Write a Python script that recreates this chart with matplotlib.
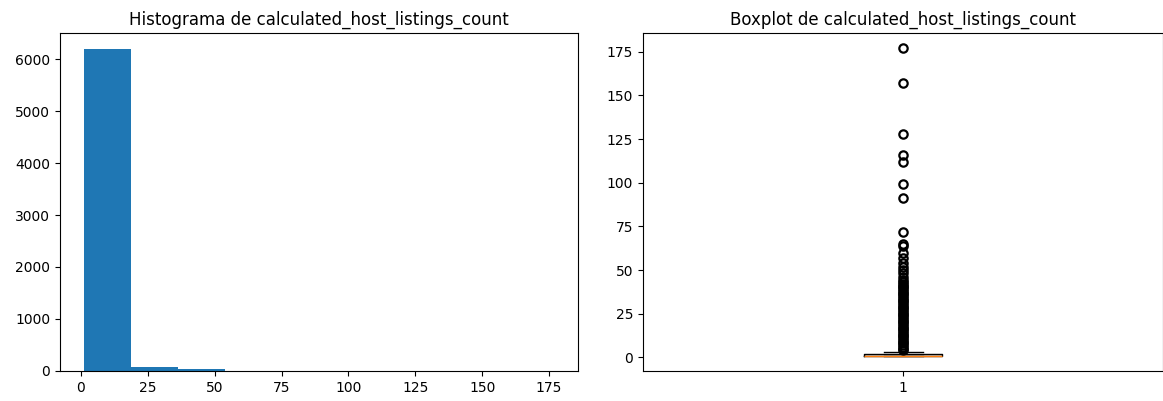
import numpy as np
import matplotlib.pyplot as plt

# Contagens do histograma (10 bins entre o mínimo e o máximo)
valor_min, valor_max = 1, 177
contagens = [6195, 76, 38, 4, 2, 3, 2, 1, 1, 1]

# Resumo do boxplot
mediana = 1
q1, q3 = 1, 2
whisker_baixo, whisker_alto = 1, 3
outliers = list(range(4, 45)) + [46, 48, 50, 52, 54, 57, 60, 64, 65, 72,
                                 91, 99, 112, 116, 128, 157, 177]

fig = plt.figure(figsize=(11.63, 4.01), dpi=100)
ax1 = fig.add_axes([0.0516, 0.075, 0.4454, 0.843])
ax2 = fig.add_axes([0.5529, 0.075, 0.4471, 0.843])

# Histograma
bordas = np.linspace(valor_min, valor_max, len(contagens) + 1)
ax1.hist(bordas[:-1], bins=bordas, weights=contagens)
ax1.set_title('Histograma de calculated_host_listings_count')

# Boxplot
stats = [{'med': mediana, 'q1': q1, 'q3': q3,
          'whislo': whisker_baixo, 'whishi': whisker_alto,
          'fliers': outliers, 'label': '1'}]
ax2.bxp(stats, flierprops={'markeredgewidth': 1.6})
ax2.set_title('Boxplot de calculated_host_listings_count')

plt.savefig('out.png', dpi=100)
